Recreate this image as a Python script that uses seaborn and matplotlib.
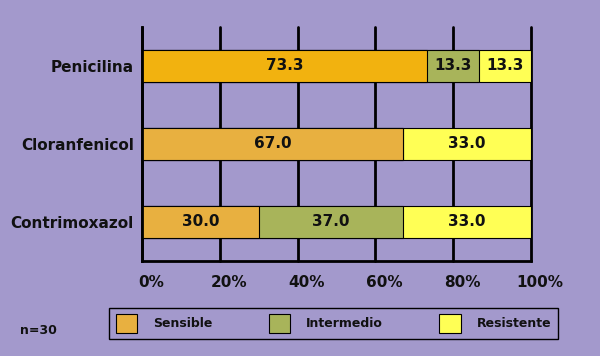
import matplotlib
matplotlib.use("Agg")
import matplotlib.pyplot as plt
import matplotlib.transforms as mtransforms
from matplotlib.patches import Patch
import numpy as np
import pandas as pd
import seaborn as sns

# data
antibioticos = ["Penicilina", "Cloranfenicol", "Contrimoxazol"]
sensible = [73.3, 67.0, 30.0]
intermedio = [13.3, 0.0, 37.0]
resistente = [13.3, 33.0, 33.0]
categorias = ["Sensible", "Intermedio", "Resistente"]
ticks = [0, 20, 40, 60, 80, 100]

BG = "#a399cc"
C_SENS = "#e8b040"
C_SENS_PEN = "#f2b20f"
C_INT = "#a8b45a"
C_RES = "#ffff55"
INK = "#111111"


def plot_chart():
    sns.set_style("white", {"axes.facecolor": BG, "figure.facecolor": BG,
                            "text.color": INK, "xtick.color": INK,
                            "ytick.color": INK})
    plt.rcParams["font.family"] = ["DejaVu Sans"]
    plt.rcParams["font.weight"] = "bold"

    df = pd.DataFrame({"ab": antibioticos, "S": sensible,
                       "I": intermedio, "R": resistente})
    df["SI"] = df["S"] + df["I"]
    df["SIR"] = df["SI"] + df["R"]

    fig = plt.figure(figsize=(6, 3.56), dpi=100)
    ax = fig.add_axes([0.2367, 0.2669, 0.6483, 0.6573])

    kw = dict(orient="h", width=0.4, edgecolor="black", linewidth=0.8,
              saturation=1, order=antibioticos, ax=ax)
    # stacked via cumulative totals, widest first
    sns.barplot(data=df, x="SIR", y="ab", color=C_RES, **kw)
    sns.barplot(data=df, x="SI", y="ab", color=C_INT, **kw)
    sens_pal = {"Penicilina": C_SENS_PEN, "Cloranfenicol": C_SENS,
                "Contrimoxazol": C_SENS}
    sns.barplot(data=df, x="S", y="ab", hue="ab", palette=sens_pal,
                legend=False, **kw)

    # segment labels
    for i, row in df.iterrows():
        for start, val in [(0, row.S), (row.S, row.I), (row.SI, row.R)]:
            if val > 0:
                ax.text(start + val / 2, i, f"{val:.1f}", ha="center",
                        va="center", fontsize=11, fontweight="bold",
                        color=INK)

    ax.set_xlim(0, 100)
    ax.set_ylim(2.5, -0.5)
    ax.set_xticks(ticks)
    ax.set_xticklabels([f"{t}%" for t in ticks])
    ax.set_xlabel("")
    ax.set_ylabel("")
    ax.grid(axis="x", color="black", linewidth=2)
    ax.set_axisbelow(True)
    for ln in ax.get_xgridlines():
        ln.set_clip_on(False)
    for side in ["top", "right"]:
        ax.spines[side].set_visible(False)
    for side in ["left", "bottom"]:
        ax.spines[side].set_color("black")
        ax.spines[side].set_linewidth(2)
    ax.tick_params(axis="x", length=0, pad=10, labelsize=11,
                   labelcolor=INK)
    ax.tick_params(axis="y", length=0, pad=6, labelsize=11,
                   labelcolor=INK)
    offset = mtransforms.ScaledTranslation(9 / 100, 0, fig.dpi_scale_trans)
    for lab in ax.get_xticklabels():
        lab.set_transform(lab.get_transform() + offset)
        lab.set_fontweight("bold")
    for lab in ax.get_yticklabels():
        lab.set_fontweight("bold")

    handles = [Patch(facecolor=c, edgecolor="black", linewidth=0.8)
               for c in [C_SENS, C_INT, C_RES]]
    leg = fig.legend(handles, categorias, ncol=3, loc="center",
                     bbox_to_anchor=(0.5558, 0.0913), frameon=True,
                     fancybox=False, edgecolor="black", facecolor=BG,
                     fontsize=9, handlelength=1.7, handleheight=1.9,
                     columnspacing=4.5, handletextpad=1.3,
                     borderpad=0.5)
    leg.get_frame().set_linewidth(1)
    leg.get_frame().set_alpha(None)
    for t in leg.get_texts():
        t.set_fontweight("bold")
        t.set_color(INK)

    fig.text(20 / 600, 1 - 330 / 356, "n=30", fontsize=9, fontweight="bold",
             va="center", ha="left", color=INK)

    fig.savefig("out.png", dpi=100, facecolor=BG)


if __name__ == "__main__":
    plot_chart()
